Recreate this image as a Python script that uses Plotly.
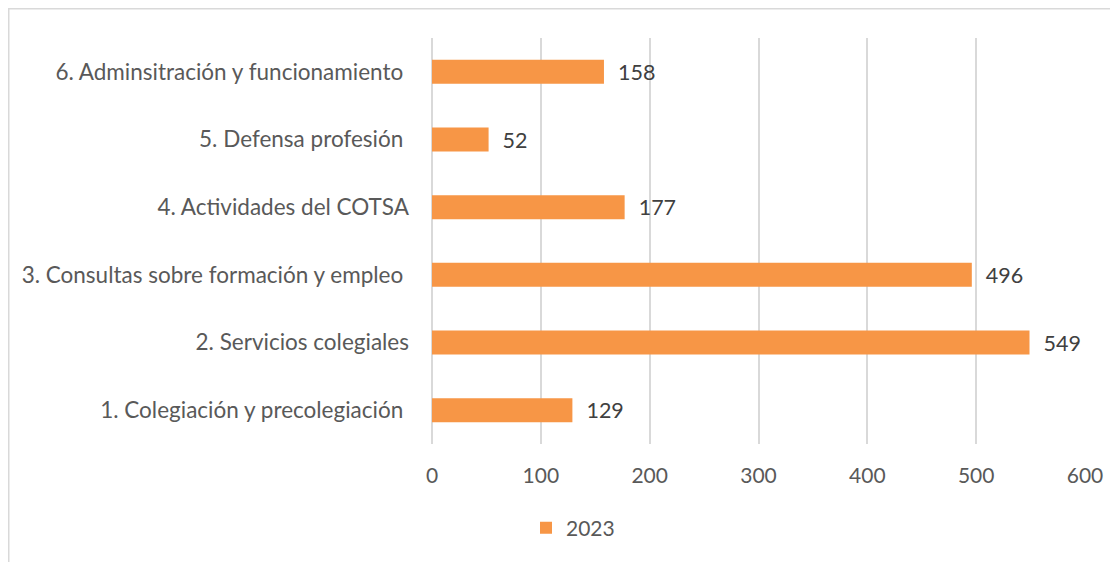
import plotly.graph_objects as go

categories = [
    "1. Colegiación y precolegiación\u00a0",
    "2. Servicios colegiales",
    "3. Consultas sobre formación y empleo\u00a0",
    "4. Actividades del COTSA",
    "5. Defensa profesión\u00a0",
    "6. Adminsitración y funcionamiento\u00a0",
]
values = [129, 549, 496, 177, 52, 158]
series_name = "2023"
tick_vals = [0, 100, 200, 300, 400, 500, 600]

W, H = 1118, 562
L, R, T, B = 424, 41, 30, 126
pw, ph = W - L - R, H - T - B
FONT = "Lato"
FS = 21

fig = go.Figure()
fig.add_trace(go.Bar(
    y=categories, x=values, orientation="h", name=series_name,
    marker=dict(color="#F79646", line=dict(width=0)),
    text=values, texttemplate="  %{x}", textposition="outside",
    textfont=dict(size=21.5, color="#404040", family=FONT),
    constraintext="none",
    cliponaxis=False,
))

fig.update_layout(
    width=W, height=H,
    margin=dict(l=L, r=R, t=T, b=B),
    paper_bgcolor="white", plot_bgcolor="white",
    font=dict(family=FONT, size=FS, color="#595959"),
    bargap=0.645,
    uniformtext=dict(mode=False),
    showlegend=True,
    legend=dict(orientation="h", x=(518 - L) / pw, xanchor="left",
                y=-(520 - (T + ph)) / ph, yanchor="middle",
                font=dict(size=FS, color="#595959"),
                itemwidth=30, bgcolor="rgba(0,0,0,0)"),
    xaxis=dict(range=[0, 600], tickvals=tick_vals, showgrid=True,
               gridcolor="#D9D9D9", gridwidth=1.5, zeroline=True,
               zerolinecolor="#D9D9D9", zerolinewidth=1.5,
               showline=False, ticks="", ticklabelstandoff=17,
               tickfont=dict(size=FS, color="#595959")),
    yaxis=dict(showgrid=False, showline=False, ticks="",
               ticklabelstandoff=22,
               tickfont=dict(size=22.5, color="#595959")),
)

# chart border (top and left edges of the chart area)
fig.add_shape(type="rect", xref="paper", yref="paper",
              x0=(0.75 - L) / pw, x1=(W + 20 - L) / pw,
              y0=-(H + 20 - T - ph) / ph, y1=1 + (T - 0.75) / ph,
              line=dict(color="#D9D9D9", width=1.5), fillcolor="rgba(0,0,0,0)",
              layer="below")

fig.write_html("out.html")
